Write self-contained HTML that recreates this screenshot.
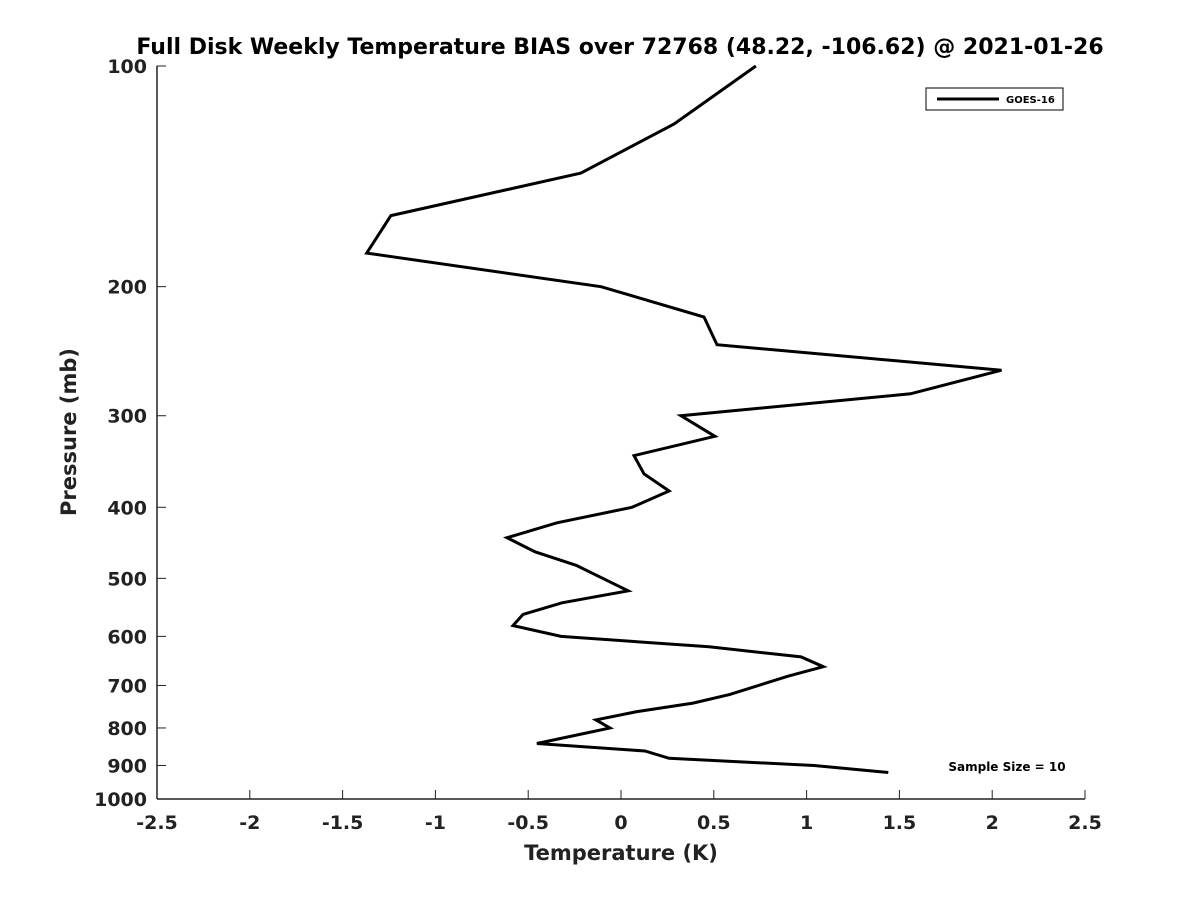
<!DOCTYPE html>
<html><head><meta charset="utf-8"><style>
html,body{margin:0;padding:0;background:#fff;}
svg{display:block;font-family:"DejaVu Sans","Liberation Sans",sans-serif;font-weight:bold;}
</style></head><body>
<svg id="chart" width="1200" height="900" viewBox="0 0 1200 900" xmlns="http://www.w3.org/2000/svg">
<rect width="1200" height="900" fill="#fff"/>
<text x="620" y="54" text-anchor="middle" font-size="22" fill="#000">Full Disk Weekly Temperature BIAS over 72768 (48.22, -106.62) @ 2021-01-26</text>
<g id="axes"></g>
<path id="line" fill="none" stroke="#000" stroke-width="3" stroke-linejoin="miter"/>
<g>
<rect x="926" y="88" width="137" height="22" fill="#fff" stroke="#000" stroke-width="1"/>
<line x1="937" y1="99" x2="999" y2="99" stroke="#000" stroke-width="3"/>
<text x="1006" y="103" font-size="10" fill="#000">GOES-16</text>
</g>
<text x="1007" y="771" text-anchor="middle" font-size="12" fill="#000">Sample Size = 10</text>
<text x="621" y="860" text-anchor="middle" font-size="21" fill="#222">Temperature (K)</text>
<text transform="translate(76,432) rotate(-90)" text-anchor="middle" font-size="21" fill="#222">Pressure (mb)</text>
</svg>
<script>
const temps=[0.727,0.286,-0.216,-1.24,-1.37,-0.108,0.447,0.517,2.05,1.56,0.323,0.506,0.07,0.124,0.259,0.059,-0.345,-0.614,-0.463,-0.242,0.038,-0.318,-0.528,-0.582,-0.323,0.474,0.97,1.09,0.90,0.587,0.388,0.086,-0.135,-0.059,-0.453,0.129,0.259,1.04,1.44];
const pressures=[100,120,140,160,180,200,220,240,260,280,300,320,340,360,380,400,420,440,460,480,520,540,560,580,600,620,640,660,680,720,740,760,780,800,840,860,880,900,920];
const xTicks=[-2.5,-2,-1.5,-1,-0.5,0,0.5,1,1.5,2,2.5];
const xTickLabels=["-2.5","-2","-1.5","-1","-0.5","0","0.5","1","1.5","2","2.5"];
const yTicks=[100,200,300,400,500,600,700,800,900,1000];
const yTickLabels=["100","200","300","400","500","600","700","800","900","1000"];
const L=157,R=1085,T=66,B=799;
const xS=v=>L+(v+2.5)/5*(R-L);
const yS=p=>T+(Math.log10(p)-2)*(B-T);
const NS="http://www.w3.org/2000/svg";
const ax=document.getElementById('axes');
function mk(tag,attrs){const e=document.createElementNS(NS,tag);for(const k in attrs)e.setAttribute(k,attrs[k]);ax.appendChild(e);return e;}
let e=mk('line',{x1:L,y1:B,x2:R,y2:B,stroke:'#222','stroke-width':1.5});


e=mk('line',{x1:L,y1:T,x2:L,y2:B,stroke:'#222','stroke-width':1.5});


xTicks.forEach((v,i)=>{
 const x=xS(v);
 let t=mk('line',{x1:x,y1:B,x2:x,y2:B-9,stroke:'#222','stroke-width':1});
 
 
 let l=mk('text',{x:x,y:829,'text-anchor':'middle','font-size':19,fill:'#222'});
 l.textContent=xTickLabels[i];
 
 
});
yTicks.forEach((p,i)=>{
 const y=yS(p);
 let t=mk('line',{x1:L,y1:y,x2:L+9,y2:y,stroke:'#222','stroke-width':1});
 
 
 let l=mk('text',{x:147,y:y+7,'text-anchor':'end','font-size':19,fill:'#222'});
 l.textContent=yTickLabels[i];
 
 
});
document.getElementById('line').setAttribute('d',temps.map((v,i)=>(i?'L':'M')+xS(v).toFixed(1)+' '+yS(pressures[i]).toFixed(1)).join(' '));
</script>
</body></html>
